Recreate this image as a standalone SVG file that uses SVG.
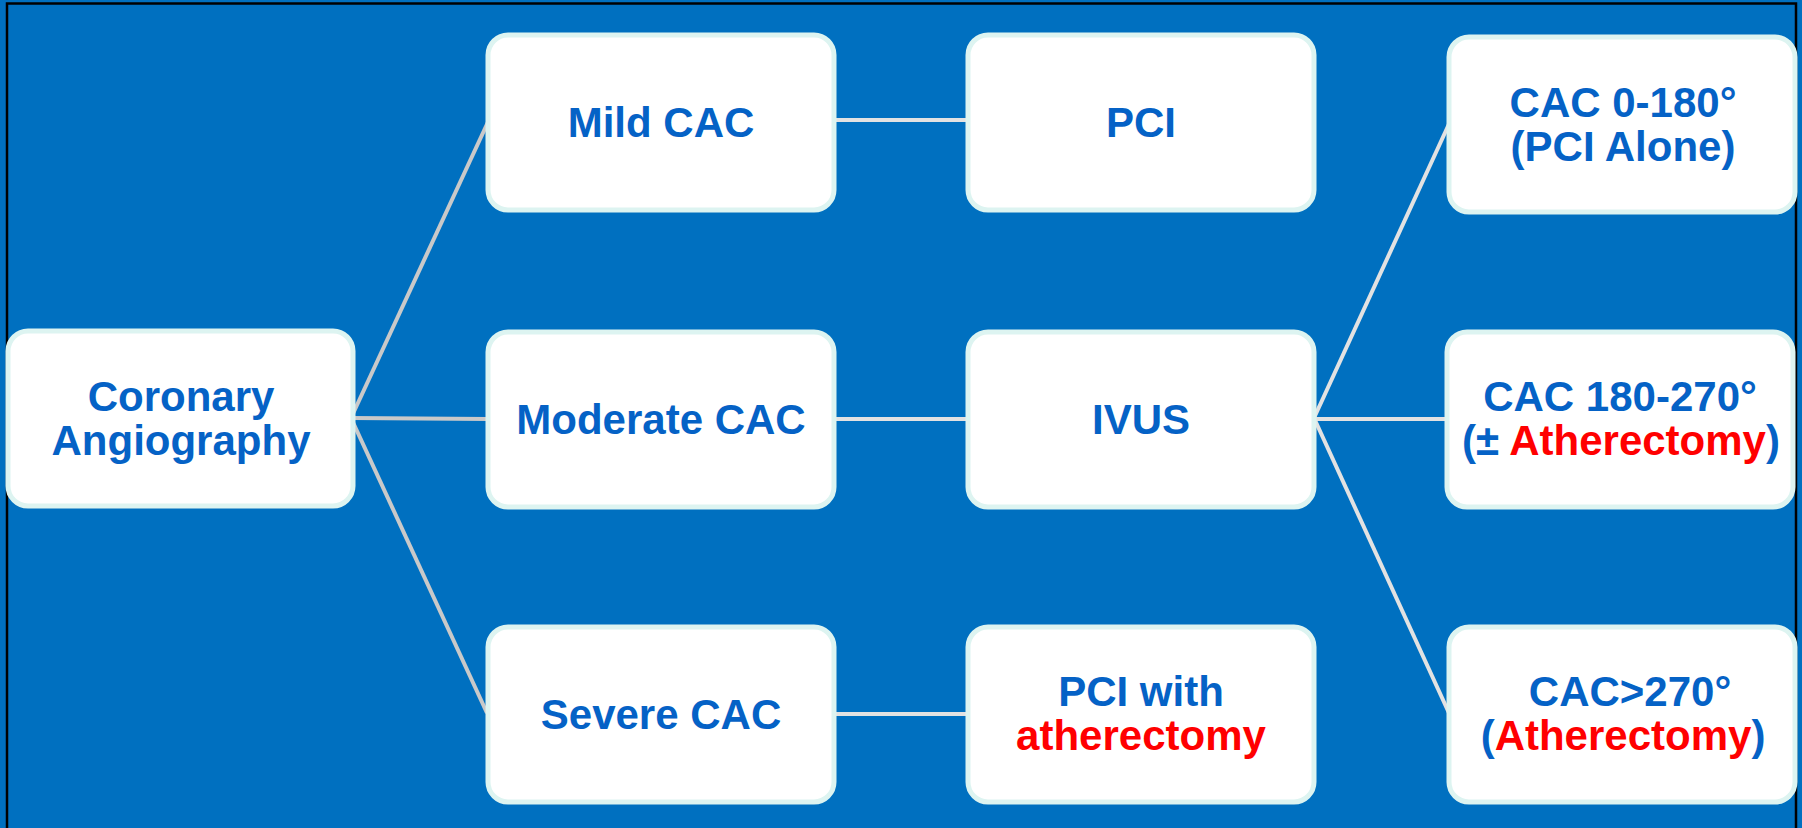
<svg xmlns="http://www.w3.org/2000/svg" width="1802" height="828" viewBox="0 0 1802 828">
<style>
.box{fill:#FFFFFF;stroke:#DDF4F1;stroke-width:5}
.t{font-family:"Liberation Sans",Arial,sans-serif;font-weight:bold;font-size:42px;fill:#0562C6;text-anchor:middle}
.r{fill:#FF0000}
.c1{stroke:#C9C9C9;stroke-width:4;fill:none}
.c2{stroke:#E2E2E2;stroke-width:4;fill:none}
</style>
<rect x="0" y="0" width="1802" height="828" fill="#0070C0"/>
<rect x="7" y="3.5" width="1789" height="840" fill="none" stroke="#000000" stroke-width="2.5"/>
<g id="connectors">
<line class="c1" x1="351" y1="418" x2="488" y2="122"/>
<line class="c1" x1="351" y1="418" x2="488" y2="419"/>
<line class="c1" x1="351" y1="418" x2="487" y2="713"/>
<line class="c2" x1="834" y1="120" x2="968" y2="120"/>
<line class="c2" x1="834" y1="419" x2="968" y2="419"/>
<line class="c2" x1="834" y1="714" x2="968" y2="714"/>
<line class="c2" x1="1314" y1="418" x2="1449" y2="124"/>
<line class="c2" x1="1314" y1="419" x2="1447" y2="419"/>
<line class="c2" x1="1314" y1="418" x2="1449" y2="713"/>
</g>
<g id="n-coronary">
<rect class="box" x="8" y="331" width="345" height="175" rx="20"/>
<text class="t" x="181" y="411">Coronary</text>
<text class="t" x="181" y="455">Angiography</text>
</g>
<g id="n-mild">
<rect class="box" x="488" y="35" width="346" height="175" rx="20"/>
<text class="t" x="661" y="137">Mild CAC</text>
</g>
<g id="n-moderate">
<rect class="box" x="488" y="332" width="346" height="175" rx="20"/>
<text class="t" x="661" y="434">Moderate CAC</text>
</g>
<g id="n-severe">
<rect class="box" x="488" y="627" width="346" height="175" rx="20"/>
<text class="t" x="661" y="729">Severe CAC</text>
</g>
<g id="n-pci">
<rect class="box" x="968" y="35" width="346" height="175" rx="20"/>
<text class="t" x="1141" y="137">PCI</text>
</g>
<g id="n-ivus">
<rect class="box" x="968" y="332" width="346" height="175" rx="20"/>
<text class="t" x="1141" y="434">IVUS</text>
</g>
<g id="n-pci-ath">
<rect class="box" x="968" y="627" width="346" height="175" rx="20"/>
<text class="t" x="1141" y="706">PCI with</text>
<text class="t r" x="1141" y="750">atherectomy</text>
</g>
<g id="n-cac0">
<rect class="box" x="1449" y="37" width="346" height="175" rx="20"/>
<text class="t" x="1623" y="117">CAC 0-180°</text>
<text class="t" x="1623" y="161">(PCI Alone)</text>
</g>
<g id="n-cac180">
<rect class="box" x="1447" y="332" width="346" height="175" rx="20"/>
<text class="t" x="1620" y="411">CAC 180-270°</text>
<text class="t" x="1621" y="455">(± <tspan class="r">Atherectomy</tspan>)</text>
</g>
<g id="n-cac270">
<rect class="box" x="1449" y="627" width="346" height="175" rx="20"/>
<text class="t" x="1630" y="706">CAC&gt;270°</text>
<text class="t" x="1623" y="750">(<tspan class="r">Atherectomy</tspan>)</text>
</g>
</svg>
